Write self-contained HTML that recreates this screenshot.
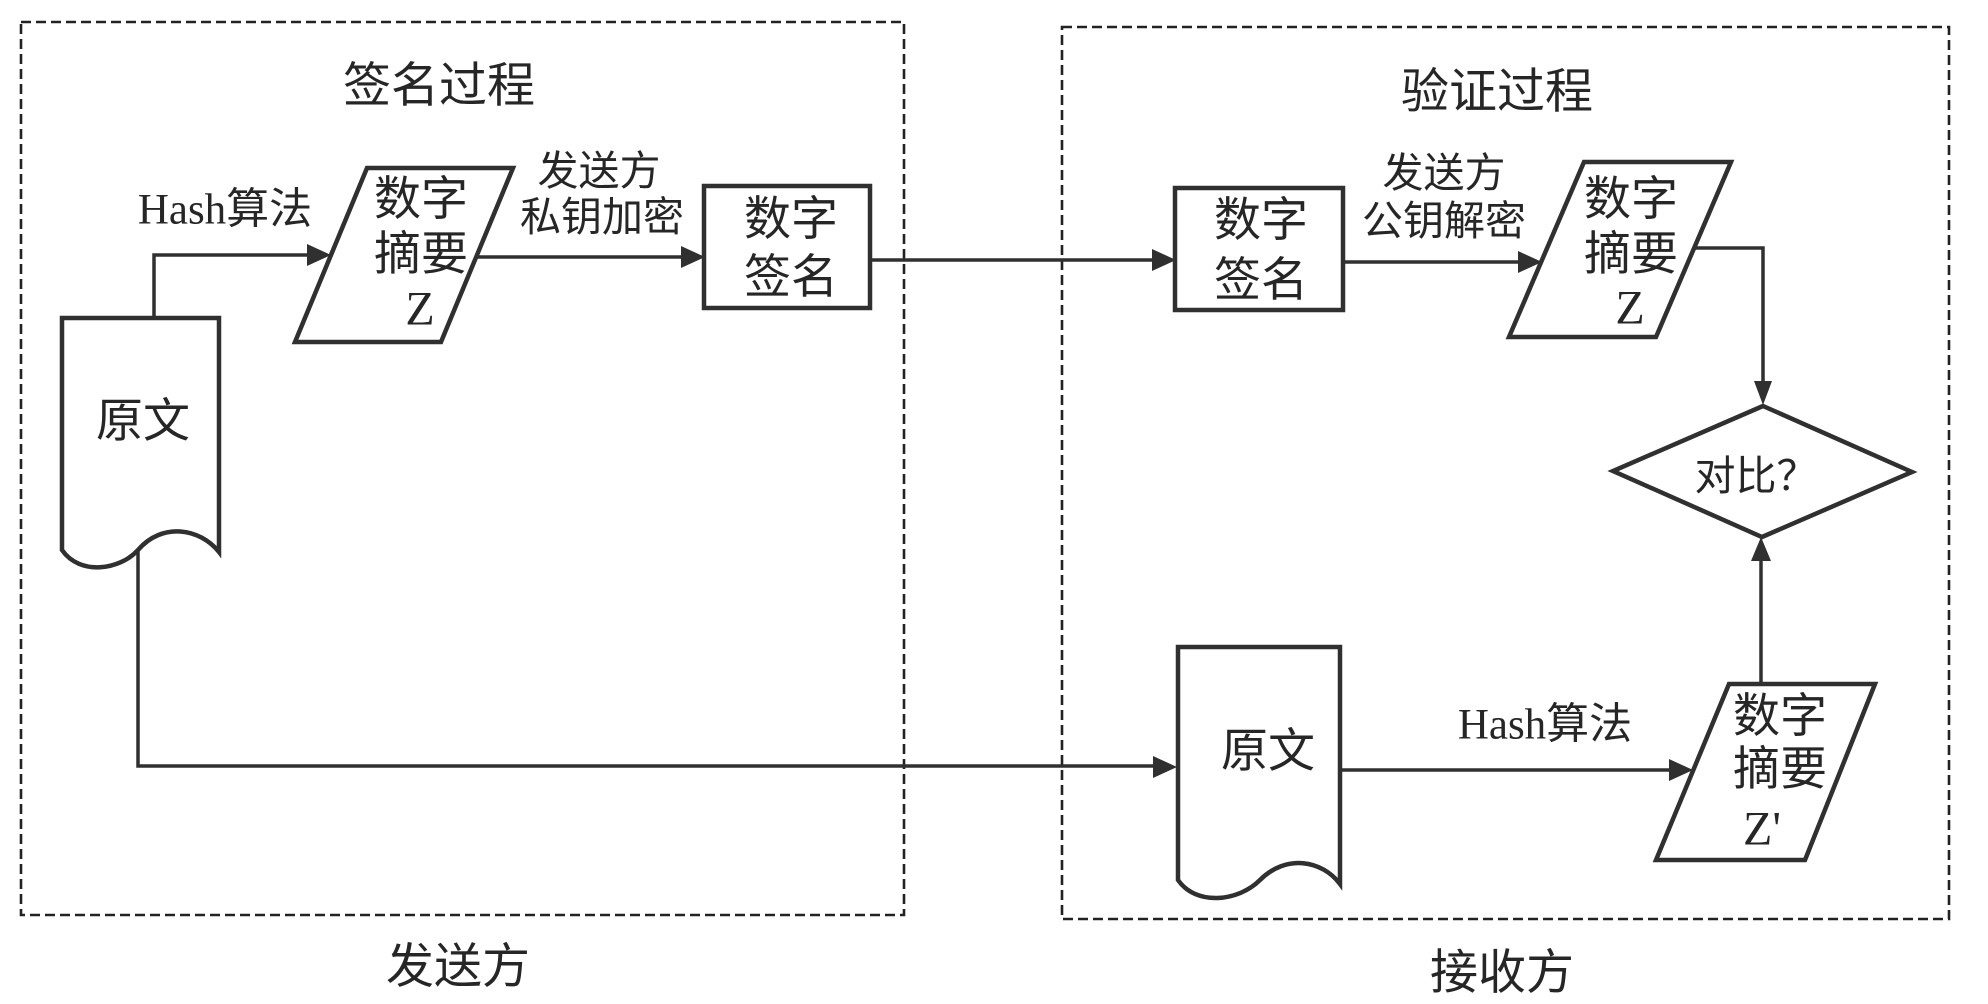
<!DOCTYPE html>
<html>
<head>
<meta charset="utf-8">
<style>
  html, body { margin: 0; padding: 0; background: #ffffff; }
  body { width: 1988px; height: 1004px; overflow: hidden; }
  svg { display: block; }
  .cjk { font-family: "Liberation Serif", "Noto Sans CJK SC", "WenQuanYi Zen Hei", sans-serif; fill: #262626; }
  .cjk2 { font-family: "Noto Sans CJK SC", "WenQuanYi Zen Hei", sans-serif; fill: #262626; }
  .lat { font-family: "Liberation Serif", "Noto Sans CJK SC", serif; fill: #262626; }
</style>
</head>
<body>
<svg width="1988" height="1004" viewBox="0 0 1988 1004" xmlns="http://www.w3.org/2000/svg">
  <rect x="0" y="0" width="1988" height="1004" fill="#ffffff"/>

  <!-- dashed containers -->
  <rect x="21" y="22" width="883" height="893" fill="none" stroke="#222" stroke-width="2.6" stroke-dasharray="10 5"/>
  <rect x="1062" y="27" width="887" height="892" fill="none" stroke="#222" stroke-width="2.6" stroke-dasharray="10 5"/>

  <!-- titles -->
  <text class="cjk" x="439" y="86" font-size="48" text-anchor="middle" dominant-baseline="central">签名过程</text>
  <text class="cjk" x="1497" y="92" font-size="48" text-anchor="middle" dominant-baseline="central">验证过程</text>
  <text class="cjk" x="458" y="967" font-size="48" text-anchor="middle" dominant-baseline="central">发送方</text>
  <text class="cjk" x="1502" y="973" font-size="48" text-anchor="middle" dominant-baseline="central">接收方</text>

  <g stroke="#303030" stroke-linejoin="miter" fill="#ffffff">
    <!-- left document 原文 -->
    <path d="M62,318 H219 V552 C200,528 162,522 138,550 C120,570 80,576 62,550 Z" stroke-width="4.5"/>
    <!-- parallelogram 1 -->
    <polygon points="367,168 513,168 441,342 295,342" stroke-width="4.5"/>
    <!-- 数字签名 left box -->
    <rect x="704" y="186" width="166" height="122" stroke-width="4.5"/>
    <!-- 数字签名 right box -->
    <rect x="1175" y="188" width="168" height="122" stroke-width="4.5"/>
    <!-- parallelogram 2 -->
    <polygon points="1584,162 1731,162 1656,337 1509,337" stroke-width="4.5"/>
    <!-- diamond -->
    <polygon points="1763,406 1912,472 1762,537 1613,471" stroke-width="4.5"/>
    <!-- right document 原文 -->
    <path d="M1178,647 H1340 V884 C1322,860 1286,854 1260,880 C1238,902 1196,906 1178,880 Z" stroke-width="4.5"/>
    <!-- parallelogram Z' -->
    <polygon points="1729,684 1875,684 1805,860 1656,860" stroke-width="4.5"/>
  </g>

  <!-- connectors -->
  <g stroke="#303030" stroke-width="3.5" fill="none">
    <path d="M154,318 V255 H309"/>
    <path d="M476,257 H684"/>
    <path d="M870,260 H1155"/>
    <path d="M1343,262 H1521"/>
    <path d="M1694,248 H1763 V386"/>
    <path d="M138,550 V766 H1156"/>
    <path d="M1340,770 H1672"/>
    <path d="M1761,684 V558"/>
  </g>
  <g fill="#303030" stroke="none">
    <polygon points="331,255 307,244 307,266"/>
    <polygon points="705,257 681,246 681,268"/>
    <polygon points="1176,260 1152,249 1152,271"/>
    <polygon points="1542,262 1518,251 1518,273"/>
    <polygon points="1763,405 1754,381 1772,381"/>
    <polygon points="1177,767 1153,756 1153,778"/>
    <polygon points="1693,770 1669,759 1669,781"/>
    <polygon points="1761,537 1751,561 1771,561"/>
  </g>

  <!-- labels -->
  <text class="lat" x="225" y="210" font-size="43" text-anchor="middle" dominant-baseline="central">Hash算法</text>
  <text class="cjk" x="599" y="171" font-size="41" text-anchor="middle" dominant-baseline="central">发送方</text>
  <text class="cjk" x="602" y="217" font-size="41" text-anchor="middle" dominant-baseline="central">私钥加密</text>
  <text class="cjk" x="1444" y="173" font-size="41" text-anchor="middle" dominant-baseline="central">发送方</text>
  <text class="cjk" x="1444" y="221" font-size="41" text-anchor="middle" dominant-baseline="central">公钥解密</text>
  <text class="lat" x="1545" y="725" font-size="43" text-anchor="middle" dominant-baseline="central">Hash算法</text>

  <!-- node text -->
  <text class="cjk" x="143" y="422" font-size="47" text-anchor="middle" dominant-baseline="central">原文</text>

  <text class="cjk" x="421" y="200" font-size="47" text-anchor="middle" dominant-baseline="central">数字</text>
  <text class="cjk" x="421" y="255" font-size="47" text-anchor="middle" dominant-baseline="central">摘要</text>
  <text class="lat" x="420" y="309" font-size="48" text-anchor="middle" dominant-baseline="central">Z</text>

  <text class="cjk" x="791" y="220" font-size="47" text-anchor="middle" dominant-baseline="central">数字</text>
  <text class="cjk" x="791" y="278" font-size="47" text-anchor="middle" dominant-baseline="central">签名</text>

  <text class="cjk" x="1261" y="221" font-size="47" text-anchor="middle" dominant-baseline="central">数字</text>
  <text class="cjk" x="1261" y="281" font-size="47" text-anchor="middle" dominant-baseline="central">签名</text>

  <text class="cjk" x="1631" y="200" font-size="47" text-anchor="middle" dominant-baseline="central">数字</text>
  <text class="cjk" x="1631" y="255" font-size="47" text-anchor="middle" dominant-baseline="central">摘要</text>
  <text class="lat" x="1630" y="308" font-size="48" text-anchor="middle" dominant-baseline="central">Z</text>

  <text class="cjk2" x="1756" y="472" font-size="41" text-anchor="middle" dominant-baseline="central">对比？</text>

  <text class="cjk" x="1268" y="752" font-size="47" text-anchor="middle" dominant-baseline="central">原文</text>

  <text class="cjk" x="1780" y="717" font-size="47" text-anchor="middle" dominant-baseline="central">数字</text>
  <text class="cjk" x="1780" y="770" font-size="47" text-anchor="middle" dominant-baseline="central">摘要</text>
  <text class="lat" x="1762" y="829" font-size="48" text-anchor="middle" dominant-baseline="central">Z'</text>
</svg>
</body>
</html>
